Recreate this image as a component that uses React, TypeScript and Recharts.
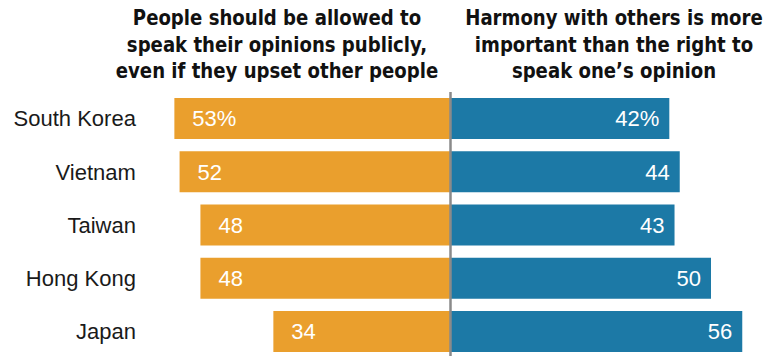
import React from 'react';
import { BarChart, Bar, XAxis, YAxis, ReferenceLine, LabelList } from 'recharts';

const countries = ['South Korea', 'Vietnam', 'Taiwan', 'Hong Kong', 'Japan'];
const speakOpinions = [53, 52, 48, 48, 34];
const harmony = [42, 44, 43, 50, 56];
const headerLeft = ['People should be allowed to', 'speak their opinions publicly,', 'even if they upset other people'];
const headerRight = ['Harmony with others is more', 'important than the right to', 'speak one\u2019s opinion'];

const data = countries.map((c, i) => ({ country: c, left: -speakOpinions[i], right: harmony[i] }));

const ORANGE = '#EA9F2D';
const BLUE = '#1C79A6';
const BODY_FONT = '"Liberation Sans", Arial, sans-serif';
const HEAD_FONT = '"Liberation Sans Narrow", "DejaVu Sans Condensed", "Arial Narrow", sans-serif';

const LeftLabel = (props: any) => {
  const { x, y, width, height, index } = props;
  const left = Math.min(Number(x), Number(x) + Number(width));
  const text = String(speakOpinions[index]) + (index === 0 ? '%' : '');
  return (
    <text x={left + 18} y={Number(y) + Number(height) / 2 + 8} fill="#fff" fontSize={22} fontFamily={BODY_FONT} textAnchor="start">
      {text}
    </text>
  );
};

const RightLabel = (props: any) => {
  const { x, y, width, height, index } = props;
  const right = Math.max(Number(x), Number(x) + Number(width));
  const text = String(harmony[index]) + (index === 0 ? '%' : '');
  return (
    <text x={right - 10} y={Number(y) + Number(height) / 2 + 8} fill="#fff" fontSize={22} fontFamily={BODY_FONT} textAnchor="end">
      {text}
    </text>
  );
};

const headStyle: React.CSSProperties = {
  position: 'absolute',
  top: 5,
  width: 360,
  textAlign: 'center',
  fontFamily: HEAD_FONT,
  fontWeight: 'bold',
  fontSize: 22,
  lineHeight: '26.5px',
  color: '#111',
  whiteSpace: 'nowrap',
  transform: 'scaleX(0.915)',
  transformOrigin: 'center top',
};

export default function App() {
  return (
    <div style={{ position: 'absolute', left: 0, top: 0, width: 773, height: 356, overflow: 'hidden', background: '#fff' }}>
      <div style={{ ...headStyle, left: 277 - 180 }}>
        {headerLeft.map((l) => (
          <div key={l}>{l}</div>
        ))}
      </div>
      <div style={{ ...headStyle, left: 614 - 180 }}>
        {headerRight.map((l) => (
          <div key={l}>{l}</div>
        ))}
      </div>
      <div style={{ position: 'absolute', left: 0, top: 0 }}>
        <BarChart
          width={773}
          height={360}
          data={data}
          layout="vertical"
          stackOffset="sign"
          margin={{ top: 91.9, right: 9.9, bottom: 1.8, left: 0 }}
        >
          <XAxis type="number" domain={[-60, 60]} hide allowDataOverflow />
          <YAxis
            type="category"
            dataKey="country"
            width={137.9}
            tickLine={false}
            axisLine={false}
            tickSize={0}
            tickMargin={2}
            tick={{ fontSize: 22, fill: '#1a1a1a', fontFamily: BODY_FONT }}
          />
          <Bar dataKey="left" stackId="a" fill={ORANGE} barSize={41} isAnimationActive={false}>
            <LabelList dataKey="left" content={LeftLabel} />
          </Bar>
          <Bar dataKey="right" stackId="a" fill={BLUE} barSize={41} isAnimationActive={false}>
            <LabelList dataKey="right" content={RightLabel} />
          </Bar>
          <ReferenceLine x={0} stroke="#8a8a8a" strokeWidth={2.5} ifOverflow="visible" />
        </BarChart>
      </div>
    </div>
  );
}
